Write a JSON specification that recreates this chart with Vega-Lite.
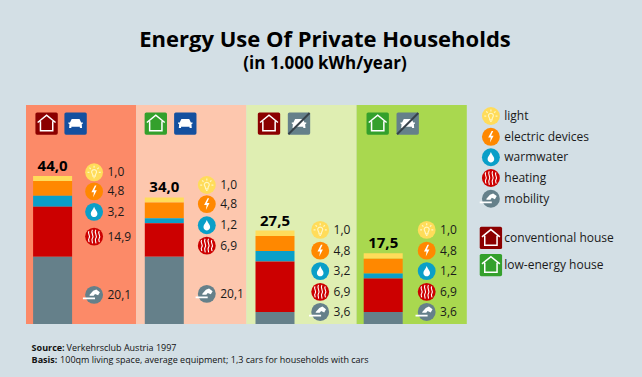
{
"$schema":"https://vega.github.io/schema/vega-lite/v6.json",
"autosize":{"type":"none"},
"width":551,"height":219,
"padding":{"left":26,"top":105,"right":65,"bottom":53},
"background":"#d3dfe5",
"config":{"view":{"stroke":null},"font":"Open Sans"},
"title":{"text":"Energy Use Of Private Households","subtitle":"(in 1.000 kWh/year)","anchor":"middle","frame":"group","dx":23.5,"offset":32,"font":"Open Sans","fontSize":22,"fontWeight":"bold","color":"#000000","subtitleFont":"Open Sans","subtitleFontSize":17,"subtitleFontWeight":"bold","subtitleColor":"#000000","subtitlePadding":4},
"datasets":{
"panels":[
{"scenario":"A","category":"panel A","ceiling":65.4},
{"scenario":"B","category":"panel B","ceiling":65.4},
{"scenario":"C","category":"panel C","ceiling":65.4},
{"scenario":"D","category":"panel D","ceiling":65.4}
],
"segments":[
{"scenario":"A","category":"light","value":1.5,"seq":5,"total":"44,0"},
{"scenario":"A","category":"electric devices","value":4.4,"seq":4,"total":"44,0"},
{"scenario":"A","category":"warmwater","value":3.3,"seq":3,"total":"44,0"},
{"scenario":"A","category":"heating","value":14.9,"seq":2,"total":"44,0"},
{"scenario":"A","category":"mobility","value":20.1,"seq":1,"total":"44,0"},
{"scenario":"B","category":"light","value":1.5,"seq":5,"total":"34,0"},
{"scenario":"B","category":"electric devices","value":4.7,"seq":4,"total":"34,0"},
{"scenario":"B","category":"warmwater","value":1.5,"seq":3,"total":"34,0"},
{"scenario":"B","category":"heating","value":10,"seq":2,"total":"34,0"},
{"scenario":"B","category":"mobility","value":20.1,"seq":1,"total":"34,0"},
{"scenario":"C","category":"light","value":1.6,"seq":5,"total":"27,5"},
{"scenario":"C","category":"electric devices","value":4.5,"seq":4,"total":"27,5"},
{"scenario":"C","category":"warmwater","value":3.1,"seq":3,"total":"27,5"},
{"scenario":"C","category":"heating","value":15.1,"seq":2,"total":"27,5"},
{"scenario":"C","category":"mobility","value":3.6,"seq":1,"total":"27,5"},
{"scenario":"D","category":"light","value":1.6,"seq":5,"total":"17,5"},
{"scenario":"D","category":"electric devices","value":4.4,"seq":4,"total":"17,5"},
{"scenario":"D","category":"warmwater","value":1.5,"seq":3,"total":"17,5"},
{"scenario":"D","category":"heating","value":10,"seq":2,"total":"17,5"},
{"scenario":"D","category":"mobility","value":3.6,"seq":1,"total":"17,5"}
],
"callouts":[
{"scenario":"A","category":"light","label":"1,0","level":45.3},
{"scenario":"A","category":"electric devices","label":"4,8","level":39.6},
{"scenario":"A","category":"warmwater","label":"3,2","level":33.5},
{"scenario":"A","category":"heating","label":"14,9","level":26.1},
{"scenario":"A","category":"mobility","label":"20,1","level":8.7},
{"scenario":"B","category":"light","label":"1,0","level":41.5},
{"scenario":"B","category":"electric devices","label":"4,8","level":35.8},
{"scenario":"B","category":"warmwater","label":"1,2","level":29.5},
{"scenario":"B","category":"heating","label":"6,9","level":23.4},
{"scenario":"B","category":"mobility","label":"20,1","level":9.0},
{"scenario":"C","category":"light","label":"1,0","level":28.1},
{"scenario":"C","category":"electric devices","label":"4,8","level":21.9},
{"scenario":"C","category":"warmwater","label":"3,2","level":15.8},
{"scenario":"C","category":"heating","label":"6,9","level":9.6},
{"scenario":"C","category":"mobility","label":"3,6","level":3.6},
{"scenario":"D","category":"light","label":"1,0","level":28.1},
{"scenario":"D","category":"electric devices","label":"4,8","level":21.9},
{"scenario":"D","category":"warmwater","label":"1,2","level":15.8},
{"scenario":"D","category":"heating","label":"6,9","level":9.6},
{"scenario":"D","category":"mobility","label":"3,6","level":3.6},
{"scenario":"key","category":"light","label":"light","level":62.1},
{"scenario":"key","category":"electric devices","label":"electric devices","level":55.9},
{"scenario":"key","category":"warmwater","label":"warmwater","level":49.8},
{"scenario":"key","category":"heating","label":"heating","level":43.6},
{"scenario":"key","category":"mobility","label":"mobility","level":37.4}
],
"houses":[
{"scenario":"A","category":"conventional house","level":59.85},
{"scenario":"B","category":"low-energy house","level":59.85},
{"scenario":"C","category":"conventional house","level":59.85},
{"scenario":"D","category":"low-energy house","level":59.85}
],
"cars":[
{"scenario":"A","category":"car","level":59.85},
{"scenario":"B","category":"car","level":59.85},
{"scenario":"C","category":"no car","level":59.85},
{"scenario":"D","category":"no car","level":59.85}
],
"keyHouses":[
{"scenario":"key","category":"conventional house","label":"conventional house","level":25.7},
{"scenario":"key","category":"low-energy house","label":"low-energy house","level":17.6}
],
"notes":[
{"scenario":"A","head":"Source:","text":"Verkehrsclub Austria 1997","level":-7.1},
{"scenario":"A","head":"Basis:","text":"100qm living space, average equipment; 1,3 cars for households with cars","level":-10.7}
]
},
"encoding":{
"x":{"field":"scenario","type":"nominal","axis":null,"scale":{"domain":["A","B","C","D","key"],"paddingInner":0,"paddingOuter":0}},
"y":{"field":"level","type":"quantitative","axis":null,"scale":{"domain":[0,65.4],"nice":false,"zero":false}},
"color":{"field":"category","type":"nominal","legend":null,"scale":{"domain":["panel A","panel B","panel C","panel D","light","electric devices","warmwater","heating","mobility","conventional house","low-energy house","car","no car"],"range":["#fc8a68","#fdc7ae","#dfeeb2","#a9d84f","#ffdc5a","#ff8800","#0a9fc8","#cc0000","#65808a","#8b0000","#34a02c","#14509f","#65808a"]}}
},
"layer":[
{"data":{"name":"panels"},
 "mark":{"type":"bar"},
 "encoding":{"y":{"field":"ceiling","type":"quantitative","stack":null}}},
{"data":{"name":"segments"},
 "mark":{"type":"bar","width":39,"xOffset":{"expr":"{'A':-28.5,'B':-27,'C':-26.5,'D':-28.5}[datum.scenario]"}},
 "encoding":{"y":{"field":"value","type":"quantitative","stack":"zero"},"order":{"field":"seq","type":"quantitative"}}},
{"data":{"name":"segments"},
 "transform":[{"aggregate":[{"op":"sum","field":"value","as":"top"}],"groupby":["scenario","total"]}],
 "mark":{"type":"text","fontWeight":"bold","fontSize":15,"dy":-10,"xOffset":{"expr":"{'A':-28.5,'B':-27,'C':-26.5,'D':-28.5}[datum.scenario]"}},
 "encoding":{"y":{"field":"top","type":"quantitative"},"color":{"value":"#000000"},"text":{"field":"total"}}},
{"data":{"name":"callouts"},
 "layer":[
  {"mark":{"type":"point","shape":"circle","filled":true,"opacity":1,"size":320,"xOffset":{"expr":"{'A':13,'B':15.5,'C':18.7,'D':15,'key':-31}[datum.scenario]"}}},
  {"transform":[{"filter":"datum.category==='light'"}],"mark":{"type":"point","filled":false,"opacity":1,"size":240,"strokeWidth":1.2,"xOffset":{"expr":"{'A':13,'B':15.5,'C':18.7,'D':15,'key':-31}[datum.scenario]"},"shape":"M0,-0.35C0.3,-0.35 0.4,-0.05 0.25,0.15C0.18,0.25 0.15,0.35 0.15,0.5L-0.15,0.5C-0.15,0.35 -0.18,0.25 -0.25,0.15C-0.4,-0.05 -0.3,-0.35 0,-0.35Z M0,-0.85L0,-0.6 M-0.6,-0.6L-0.42,-0.42 M0.6,-0.6L0.42,-0.42 M-0.85,0L-0.6,0 M0.85,0L0.6,0 M-0.1,0.7L0.1,0.7"},"encoding":{"color":{"value":"#fff6c0"}}},
  {"transform":[{"filter":"datum.category==='electric devices'"}],"mark":{"type":"point","filled":true,"opacity":1,"size":240,"xOffset":{"expr":"{'A':13,'B':15.5,'C':18.7,'D':15,'key':-31}[datum.scenario]"},"shape":"M0.1,-0.75L-0.35,0.1L-0.02,0.1L-0.12,0.75L0.35,-0.15L0.02,-0.15L0.3,-0.75Z"},"encoding":{"color":{"value":"#ffffff"}}},
  {"transform":[{"filter":"datum.category==='warmwater'"}],"mark":{"type":"point","filled":true,"opacity":1,"size":220,"xOffset":{"expr":"{'A':13,'B':15.5,'C':18.7,'D':15,'key':-31}[datum.scenario]"},"shape":"M0,-0.7C0.12,-0.3 0.45,-0.1 0.45,0.25C0.45,0.55 0.2,0.7 0,0.7C-0.2,0.7 -0.45,0.55 -0.45,0.25C-0.45,-0.1 -0.12,-0.3 0,-0.7Z"},"encoding":{"color":{"value":"#ffffff"}}},
  {"transform":[{"filter":"datum.category==='heating'"}],"mark":{"type":"point","filled":false,"opacity":1,"size":290,"strokeWidth":1.1,"xOffset":{"expr":"{'A':13,'B':15.5,'C':18.7,'D':15,'key':-31}[datum.scenario]"},"shape":"M-0.6,-0.65C-0.85,-0.35 -0.35,-0.15 -0.6,0.2C-0.75,0.4 -0.55,0.5 -0.6,0.65 M-0.2,-0.8C-0.45,-0.4 0.05,-0.15 -0.2,0.2C-0.35,0.45 -0.15,0.6 -0.2,0.8 M0.2,-0.8C-0.05,-0.4 0.45,-0.15 0.2,0.2C0.05,0.45 0.25,0.6 0.2,0.8 M0.6,-0.65C0.35,-0.35 0.85,-0.15 0.6,0.2C0.45,0.4 0.65,0.5 0.6,0.65"},"encoding":{"color":{"value":"#ffffff"}}},
  {"transform":[{"filter":"datum.category==='mobility'"}],"mark":{"type":"point","filled":true,"opacity":1,"size":320,"xOffset":{"expr":"{'A':13,'B':15.5,'C':18.7,'D':15,'key':-31}[datum.scenario]"},"shape":"M-1.25,0.3L0.1,0.3L0.1,0.5L-1.25,0.5Z M-0.5,0L-0.1,-0.45L0.25,-0.6L0.65,-0.3L0.45,0.05L0.1,-0.1L-0.05,0.1L-0.5,0.1Z"},"encoding":{"color":{"value":"#ffffff"}}},
  {"mark":{"type":"text","align":"left","fontSize":12,"xOffset":{"expr":"{'A':26.4,'B':28.9,'C':32.1,'D':28.4,'key':-17.6}[datum.scenario]"}},"encoding":{"color":{"value":"#1a1a1a"},"text":{"field":"label"}}}
 ]},
{"data":{"name":"houses"},
 "layer":[
  {"mark":{"type":"point","filled":true,"opacity":1,"size":500,"xOffset":{"expr":"{'A':-34.5,'B':-35.5,'C':-32.5,'D':-34}[datum.scenario]"},"shape":"M-0.85,-1H0.85Q1,-1 1,-0.85V0.85Q1,1 0.85,1H-0.85Q-1,1 -1,0.85V-0.85Q-1,-1 -0.85,-1Z"}},
  {"mark":{"type":"point","filled":false,"opacity":1,"size":500,"strokeWidth":1.5,"xOffset":{"expr":"{'A':-34.5,'B':-35.5,'C':-32.5,'D':-34}[datum.scenario]"},"shape":"M-0.8,-0.1L0,-0.75L0.8,-0.1 M-0.55,-0.2L-0.55,0.65L0.55,0.65L0.55,-0.2"},"encoding":{"color":{"value":"#ffffff"}}}
 ]},
{"data":{"name":"cars"},
 "layer":[
  {"mark":{"type":"point","filled":true,"opacity":1,"size":500,"xOffset":{"expr":"{'A':-5.5,'B':-6,'C':-2.5,'D':-4}[datum.scenario]"},"shape":"M-0.85,-1H0.85Q1,-1 1,-0.85V0.85Q1,1 0.85,1H-0.85Q-1,1 -1,0.85V-0.85Q-1,-1 -0.85,-1Z"}},
  {"mark":{"type":"point","filled":true,"opacity":1,"size":500,"xOffset":{"expr":"{'A':-5.5,'B':-6,'C':-2.5,'D':-4}[datum.scenario]"},"shape":"M-0.5,-0.1L-0.35,-0.4L0.35,-0.4L0.5,-0.1L0.65,-0.1L0.65,0L0.55,0.05L0.58,0.4L0.38,0.4L0.38,0.28L-0.38,0.28L-0.38,0.4L-0.58,0.4L-0.55,0.05L-0.65,0L-0.65,-0.1Z"},"encoding":{"color":{"value":"#ffffff"}}},
  {"transform":[{"filter":"datum.category==='no car'"}],"mark":{"type":"point","filled":false,"opacity":1,"size":500,"strokeWidth":2,"xOffset":{"expr":"{'A':-5.5,'B':-6,'C':-2.5,'D':-4}[datum.scenario]"},"shape":"M-0.95,0.95L0.95,-0.95"},"encoding":{"color":{"value":"#37424a"}}}
 ]},
{"data":{"name":"keyHouses"},
 "layer":[
  {"mark":{"type":"point","filled":true,"opacity":1,"size":500,"xOffset":-31,"shape":"M-0.85,-1H0.85Q1,-1 1,-0.85V0.85Q1,1 0.85,1H-0.85Q-1,1 -1,0.85V-0.85Q-1,-1 -0.85,-1Z"}},
  {"mark":{"type":"point","filled":false,"opacity":1,"size":500,"xOffset":-31,"strokeWidth":1.5,"shape":"M-0.8,-0.1L0,-0.75L0.8,-0.1 M-0.55,-0.2L-0.55,0.65L0.55,0.65L0.55,-0.2"},"encoding":{"color":{"value":"#ffffff"}}},
  {"mark":{"type":"text","align":"left","fontSize":12,"xOffset":-17.6},"encoding":{"color":{"value":"#1a1a1a"},"text":{"field":"label"}}}
 ]},
{"data":{"name":"notes"},
 "encoding":{"color":{"value":"#111111"}},
 "layer":[
  {"mark":{"type":"text","align":"left","fontSize":9,"fontWeight":"bold","xOffset":-49.5},"encoding":{"text":{"field":"head"}}},
  {"transform":[{"filter":"datum.head==='Source:'"}],"mark":{"type":"text","align":"left","fontSize":9,"xOffset":-14.5},"encoding":{"text":{"field":"text"}}},
  {"transform":[{"filter":"datum.head==='Basis:'"}],"mark":{"type":"text","align":"left","fontSize":9,"xOffset":-21},"encoding":{"text":{"field":"text"}}}
 ]}
]
}
